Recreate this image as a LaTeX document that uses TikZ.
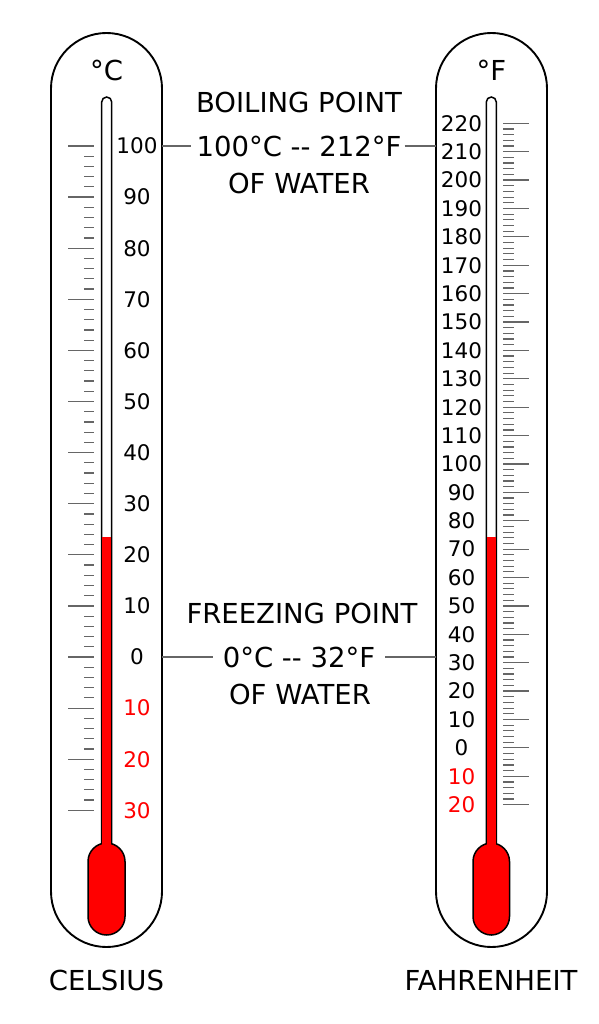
\documentclass[tikz,border=0pt]{standalone}
\usepackage{fontspec}
\setmainfont{DejaVu Sans}
\newfontfamily\djv{DejaVu Sans}
\definecolor{tickgray}{gray}{0.4}
\begin{document}
\begin{tikzpicture}[x=1pt,y=-1pt,
  case/.style={draw=black,line width=1.9pt,fill=white},
  tubeline/.style={draw=black,line width=1.5pt},
  tickln/.style={draw=tickgray,line width=1.2pt},
  lead/.style={draw=tickgray,line width=1.1pt},
  lbl/.style={font=\djv\fontsize{27.5}{32}\selectfont,inner sep=0pt},
  num/.style={font=\djv\fontsize{21.5}{25}\selectfont,inner sep=0pt},
  neg/.style={num,text=red}]
\useasboundingbox (0,0) rectangle (598,1024);

% ---------- Celsius thermometer ----------
\draw[case,rounded corners=55.5pt] (51,33) rectangle (162,947);
\draw[tubeline,fill=white,rounded corners=5pt] (101.7,97) rectangle (111.7,870);
\fill[red] (102.45,537) rectangle (110.95,870);
\draw[tubeline,fill=red,rounded corners=18.5pt] (88,843) rectangle (125,935);
\fill[red] (102.45,830) rectangle (110.95,855);
% ticks
\foreach \t in {-30,-28,...,100} \draw[tickln] (84,657-5.11*\t) -- (94,657-5.11*\t);
\foreach \t in {-30,-20,...,100} \draw[tickln] (68,657-5.11*\t) -- (94,657-5.11*\t);
% labels
\foreach \t in {0,10,...,100} \node[num] (c\t) at (137,657-5.11*\t) {\t};
\foreach \t in {10,20,30} \node[neg] (cn\t) at (137,657+5.11*\t) {\t};
\node[lbl] (cunit) at (106.5,70) {°C};
\node[lbl] (cname) at (106.5,980) {CELSIUS};

% ---------- Fahrenheit thermometer ----------
\draw[case,rounded corners=55.5pt] (436,33) rectangle (547,947);
\draw[tubeline,fill=white,rounded corners=5pt] (486.3,97) rectangle (496.3,870);
\fill[red] (487.05,537) rectangle (495.55,870);
\draw[tubeline,fill=red,rounded corners=18.5pt] (473,843) rectangle (509.5,935);
\fill[red] (487.05,830) rectangle (495.55,855);
% ticks
\foreach \t in {-20,-18,...,220} \draw[tickln] (503,146+2.839*212-2.839*\t) -- (514,146+2.839*212-2.839*\t);
\foreach \t in {-20,-10,...,220} \draw[tickln] (503,146+2.839*212-2.839*\t) -- (529,146+2.839*212-2.839*\t);
% labels
\foreach \t in {0,10,...,220} \node[num] (f\t) at (461.5,146+2.839*212-2.839*\t) {\t};
\foreach \t in {10,20} \node[neg] (fn\t) at (461.5,146+2.839*212+2.839*\t) {\t};
\node[lbl] (funit) at (491.5,70) {°F};
\node[lbl] (fname) at (491,980) {FAHRENHEIT};

% ---------- Reference points ----------
\node[lbl] (boil1) at (299,102) {BOILING POINT};
\node[lbl] (boil2) at (299,146) {100°C \mbox{-}\mbox{-} 212°F};
\node[lbl] (boil3) at (299,183) {OF WATER};
\coordinate (cb) at (162,146);
\coordinate (fb) at (436,146);
\draw[lead] (cb) -- ([xshift=-5pt]boil2.west);
\draw[lead] ([xshift=3pt]boil2.east) -- (fb);

\node[lbl] (frz1) at (302,613) {FREEZING POINT};
\node[lbl] (frz2) at (299,657) {0°C \mbox{-}\mbox{-} 32°F};
\node[lbl] (frz3) at (300,694) {OF WATER};
\coordinate (cf) at (162,657);
\coordinate (ff) at (436,657);
\draw[lead] (cf) -- ([xshift=-10pt]frz2.west);
\draw[lead] ([xshift=10pt]frz2.east) -- (ff);
\end{tikzpicture}
\end{document}
